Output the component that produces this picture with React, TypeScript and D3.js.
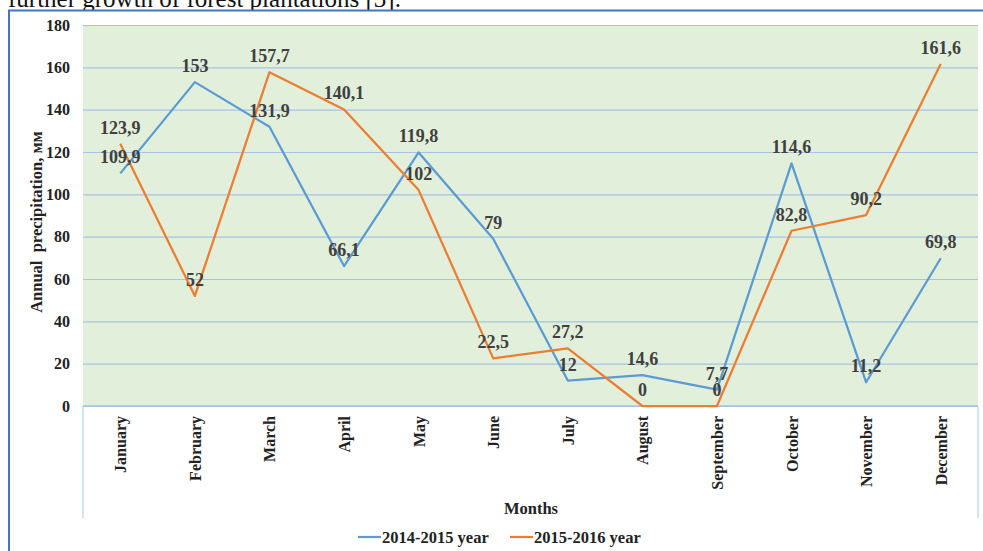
import React from "react";
import * as d3 from "d3";

const months = ["January", "February", "March", "April", "May", "June", "July", "August", "September", "October", "November", "December"];
const precip1415 = [109.9, 153, 131.9, 66.1, 119.8, 79, 12, 14.6, 7.7, 114.6, 11.2, 69.8];
const precip1516 = [123.9, 52, 157.7, 140.1, 102, 22.5, 27.2, 0, 0, 82.8, 90.2, 161.6];
const yTicks = [0, 20, 40, 60, 80, 100, 120, 140, 160, 180];
const seriesNames = ["2014-2015 year", "2015-2016 year"];

const W = 983;
const H = 551;
const serif = "'Liberation Serif', 'Times New Roman', serif";

const App = () => {
  const svgRef = React.useRef<SVGSVGElement>(null);

  React.useEffect(() => {
    const left = 83, right = 978, top = 25, bottom = 406;

    const x = d3.scaleBand<string>().domain(months).range([left, right]);
    const y = d3.scaleLinear().domain([0, 180]).range([bottom, top]);
    const cx = (m: string) => (x(m) as number) + x.bandwidth() / 2;

    const svgEl = d3.select(svgRef.current);
    svgEl.selectAll("*").remove();
    const svg = svgEl.append("g");

    // text from the page above the chart (cut off)
    svg.append("text")
      .attr("x", 8).attr("y", 7)
      .attr("font-family", serif).attr("font-size", 25)
      .attr("fill", "#111")
      .text("further growth of forest plantations [3].");

    // outer frame
    svg.append("rect")
      .attr("x", 9).attr("y", 10.5)
      .attr("width", W + 20).attr("height", H + 20)
      .attr("fill", "white").attr("stroke", "#4472c4").attr("stroke-width", 2);

    // plot background
    svg.append("rect")
      .attr("x", left).attr("y", top)
      .attr("width", right - left).attr("height", bottom - top)
      .attr("fill", "#e2efda");

    // side lines of the plot area
    svg.selectAll(".side")
      .data([left, right])
      .enter()
      .append("line")
      .attr("x1", (d) => d).attr("x2", (d) => d)
      .attr("y1", bottom).attr("y2", 518)
      .attr("stroke", "#a9c7e3").attr("stroke-width", 1);

    // y axis with grid
    const yAxis = d3.axisLeft(y)
      .tickValues(yTicks)
      .tickSize(-(right - left))
      .tickPadding(13)
      .tickFormat((v) => `${v}`);
    const yG = svg.append("g")
      .attr("transform", `translate(${left},0)`)
      .call(yAxis);
    yG.select(".domain").remove();
    yG.selectAll("line").attr("stroke", "#a3c4e4").attr("stroke-width", 1.2);
    yG.selectAll("text")
      .attr("font-family", serif).attr("font-size", 16)
      .attr("font-weight", "bold").attr("fill", "#222");

    // x axis labels
    const xAxis = d3.axisBottom(x).tickSize(0).tickPadding(0);
    const xG = svg.append("g")
      .attr("transform", `translate(0,${bottom})`)
      .call(xAxis);
    xG.select(".domain").remove();
    xG.selectAll("text")
      .attr("font-family", serif).attr("font-size", 16)
      .attr("font-weight", "bold").attr("fill", "#222")
      .attr("text-anchor", "end")
      .attr("dy", null)
      .attr("transform", "translate(6,10) rotate(-90)");

    // zero line
    svg.append("line")
      .attr("x1", left).attr("x2", right)
      .attr("y1", y(0)).attr("y2", y(0))
      .attr("stroke", "#a3c4e4").attr("stroke-width", 1.5);

    // series
    const data = [
      { name: seriesNames[0], color: "#5b9bd5", values: precip1415 },
      { name: seriesNames[1], color: "#ed7d31", values: precip1516 },
    ];
    const line = d3.line<number>()
      .x((_, i) => cx(months[i]))
      .y((d) => y(d));

    svg.selectAll(".series")
      .data(data)
      .enter()
      .append("path")
      .attr("fill", "none")
      .attr("stroke", (d) => d.color)
      .attr("stroke-width", 2.25)
      .attr("stroke-linejoin", "round")
      .attr("d", (d) => line(d.values));

    // data labels
    data.forEach((s) => {
      svg.append("g")
        .selectAll("text")
        .data(s.values)
        .enter()
        .append("text")
        .attr("x", (_, i) => cx(months[i]))
        .attr("y", (d) => y(d) - 10)
        .attr("text-anchor", "middle")
        .attr("font-family", serif).attr("font-size", 18)
        .attr("font-weight", "bold").attr("fill", "#404040")
        .text((d) => String(d).replace(".", ","));
    });

    // axis titles
    svg.append("text")
      .attr("transform", `translate(42,222) rotate(-90)`)
      .attr("text-anchor", "middle")
      .attr("font-family", serif).attr("font-size", 16.5)
      .attr("font-weight", "bold").attr("fill", "#222")
      .attr("xml:space", "preserve")
      .text("Annual  precipitation, мм");

    svg.append("text")
      .attr("x", 531).attr("y", 514)
      .attr("text-anchor", "middle")
      .attr("font-family", serif).attr("font-size", 16.5)
      .attr("font-weight", "bold").attr("fill", "#222")
      .text("Months");

    // legend
    const legendX = [358, 510];
    const lg = svg.selectAll(".legend")
      .data(data)
      .enter()
      .append("g")
      .attr("transform", (_, i) => `translate(${legendX[i]},537)`);
    lg.append("line")
      .attr("x1", 0).attr("x2", 23)
      .attr("stroke", (d) => d.color).attr("stroke-width", 2.25);
    lg.append("text")
      .attr("x", 24).attr("y", 6)
      .attr("font-family", serif).attr("font-size", 16.5)
      .attr("font-weight", "bold").attr("fill", "#222")
      .text((d) => d.name);
  }, []);

  return (
    <svg
      ref={svgRef}
      width={W}
      height={H}
      style={{ position: "absolute", left: 0, top: 0, display: "block" }}
    />
  );
};

export default App;
